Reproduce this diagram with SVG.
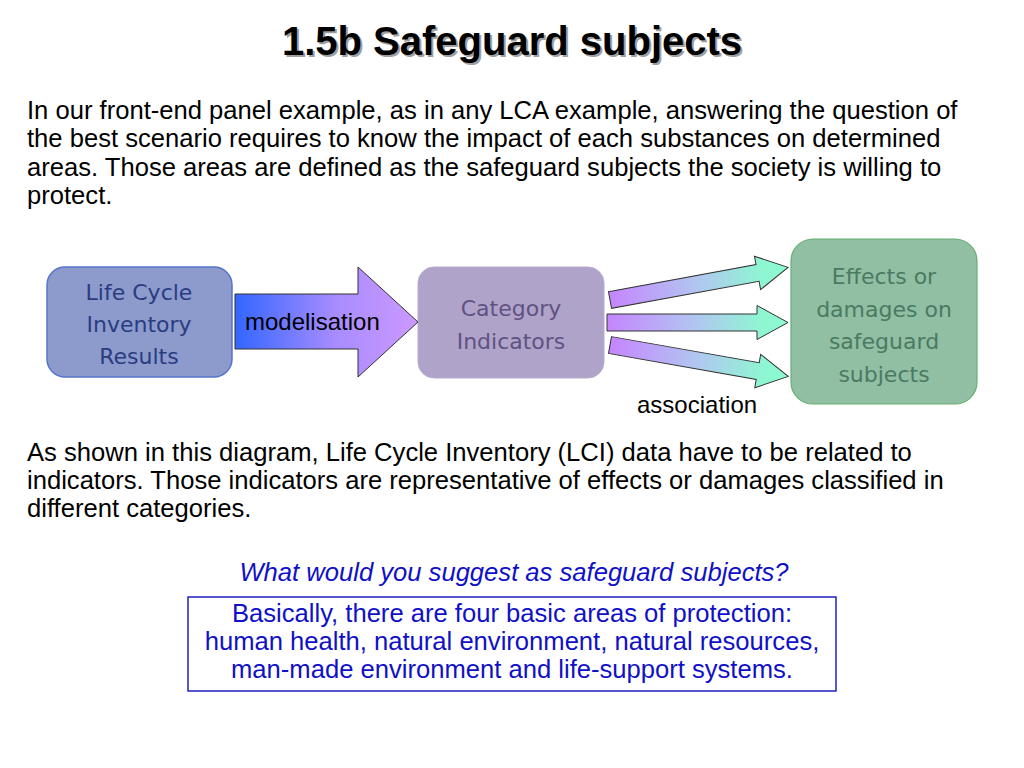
<svg xmlns="http://www.w3.org/2000/svg" width="1024" height="768" viewBox="0 0 1024 768">
<defs>
<style>
.body{font-family:"Liberation Sans",Arial,sans-serif;font-size:25.6px;fill:#000}
.label{font-family:"Liberation Sans",Arial,sans-serif;font-size:24px;fill:#000}
.box{font-family:"DejaVu Sans",Verdana,sans-serif;font-size:22px;text-anchor:middle}
.title{font-family:"Liberation Sans",Arial,sans-serif;font-size:40px;font-weight:bold;text-anchor:middle}
.blue{font-family:"Liberation Sans",Arial,sans-serif;font-size:25.6px;fill:#1010c8;text-anchor:middle}
.assoc{stroke:#333;stroke-width:1;fill:url(#gAssoc)}
</style>
<linearGradient id="gModel" x1="0" y1="0" x2="1" y2="0">
<stop offset="0" stop-color="#3366ff"/>
<stop offset="0.55" stop-color="#a88cff"/>
<stop offset="1" stop-color="#cc99ff"/>
</linearGradient>
<linearGradient id="gAssoc" x1="0" y1="0" x2="1" y2="0">
<stop offset="0" stop-color="#c585ff"/>
<stop offset="0.5" stop-color="#b0c8f0"/>
<stop offset="0.85" stop-color="#8ff5d2"/>
<stop offset="1" stop-color="#8cfcd0"/>
</linearGradient>
<polygon id="assocArrow" points="0,-8.5 150,-8.5 150,-17 181,0 150,17 150,8.5 0,8.5"/>
</defs>
<rect width="1024" height="768" fill="#fff"/>

<g id="title">
<text class="title" x="514" y="57" fill="#a0a0a0">1.5b Safeguard subjects</text>
<text class="title" x="512" y="55" fill="#000">1.5b Safeguard subjects</text>
</g>

<g id="intro">
<text class="body" x="27" y="119">In our front-end panel example, as in any LCA example, answering the question of</text>
<text class="body" x="27" y="147">the best scenario requires to know the impact of each substances on determined</text>
<text class="body" x="27" y="176">areas. Those areas are defined as the safeguard subjects the society is willing to</text>
<text class="body" x="27" y="204">protect.</text>
</g>

<g id="node-lci">
<rect x="47" y="267" width="185" height="110" rx="18" fill="#8c9bcb" stroke="#5674cc" stroke-width="1.5"/>
<text class="box" x="139" y="300" fill="#2b3b82">Life Cycle</text>
<text class="box" x="139" y="332" fill="#2b3b82">Inventory</text>
<text class="box" x="139" y="364" fill="#2b3b82">Results</text>
</g>

<g id="node-category">
<rect x="418" y="267" width="186" height="111" rx="16" fill="#b0a3c9" stroke="#b8aad0" stroke-width="1"/>
<text class="box" x="511" y="316" fill="#5f5282">Category</text>
<text class="box" x="511" y="349" fill="#5f5282">Indicators</text>
</g>

<g id="node-effects">
<rect x="791" y="239" width="186" height="165" rx="22" fill="#90bfa4" stroke="#68b070" stroke-width="1.2"/>
<text class="box" x="884" y="284" fill="#4a7a62">Effects or</text>
<text class="box" x="884" y="317" fill="#4a7a62">damages on</text>
<text class="box" x="884" y="349" fill="#4a7a62">safeguard</text>
<text class="box" x="884" y="382" fill="#4a7a62">subjects</text>
</g>

<g id="connectors">
<g id="modelisation">
<polygon points="235,294 358,294 358,267 418,322 358,377 358,349 235,349" fill="url(#gModel)" stroke="#333" stroke-width="1"/>
<text class="label" x="245" y="330">modelisation</text>
</g>
<g id="association">
<use href="#assocArrow" class="assoc" transform="translate(610,300) rotate(-10.4)"/>
<use href="#assocArrow" class="assoc" transform="translate(607,322.5)"/>
<use href="#assocArrow" class="assoc" transform="translate(610,345) rotate(10)"/>
<text class="label" x="637" y="413">association</text>
</g>
</g>

<g id="explanation">
<text class="body" x="27" y="461">As shown in this diagram, Life Cycle Inventory (LCI) data have to be related to</text>
<text class="body" x="27" y="489">indicators. Those indicators are representative of effects or damages classified in</text>
<text class="body" x="27" y="517">different categories.</text>
</g>

<g id="question">
<text class="blue" x="514" y="581" font-style="italic">What would you suggest as safeguard subjects?</text>
</g>

<g id="answer">
<rect x="188" y="597" width="648" height="94" fill="none" stroke="#2020c0" stroke-width="1.5"/>
<text class="blue" x="512" y="622">Basically, there are four basic areas of protection:</text>
<text class="blue" x="512" y="650">human health, natural environment, natural resources,</text>
<text class="blue" x="512" y="678">man-made environment and life-support systems.</text>
</g>
</svg>
